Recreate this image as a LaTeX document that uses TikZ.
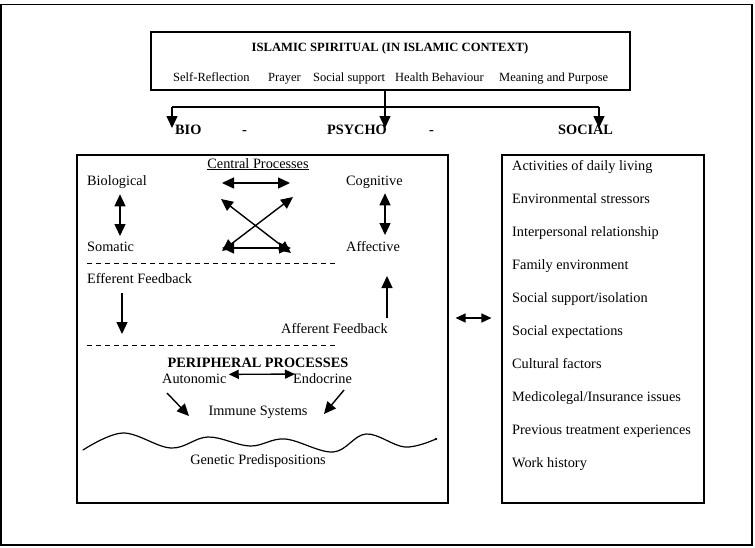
\documentclass[tikz,border=0pt]{standalone}
\usepackage{fontspec}
\setmainfont{Liberation Serif}
\usetikzlibrary{arrows.meta}
\begin{document}
\begin{tikzpicture}[x=1pt,y=-1pt,
  txt/.style={anchor=base west, inner sep=0pt, font=\fontsize{14.3}{17}\selectfont},
  ctxt/.style={anchor=base, inner sep=0pt, font=\fontsize{14.3}{17}\selectfont},
  btxt/.style={anchor=base west, inner sep=0pt, font=\fontsize{14.3}{17}\selectfont\bfseries},
  stxt/.style={anchor=base west, inner sep=0pt, font=\fontsize{12.5}{15}\selectfont},
  frame/.style={draw, line width=1.1pt, inner sep=0pt},
  arr/.style={line width=1.4pt, -{Triangle[length=12pt,width=11pt]}},
  darr/.style={line width=1.4pt, {Triangle[length=12pt,width=11pt]}-{Triangle[length=12pt,width=11pt]}},
  sdarr/.style={line width=1.4pt, {Triangle[length=10pt,width=9pt]}-{Triangle[length=10pt,width=9pt]}},
  dline/.style={line width=0.9pt, dash pattern=on 5pt off 4pt},
]
\useasboundingbox (0,0) rectangle (755,547);
% outer frame
\draw[line width=1.2pt] (1,4.5) rectangle (752,545);

% top box
\node[frame, minimum width=479pt, minimum height=58pt] (top) at (390.5,61) {};
\node[anchor=base, inner sep=0pt, font=\fontsize{12.6}{15}\selectfont\bfseries] (title) at (390,51) {ISLAMIC SPIRITUAL (IN ISLAMIC CONTEXT)};
\node[stxt] (s1) at (173,81) {Self-Reflection};
\node[stxt] (s2) at (268,81) {Prayer};
\node[stxt] (s3) at (313,81) {Social support};
\node[stxt] (s4) at (395,81) {Health Behaviour};
\node[stxt] (s5) at (499,81) {Meaning and Purpose};

% bio psycho social
\node[btxt] (bio) at (175,134) {BIO};
\node[btxt] (d1) at (242,134) {-};
\node[btxt] (psy) at (327,134) {PSYCHO};
\node[btxt] (d2) at (429,134) {-};
\node[btxt] (soc) at (558,134) {SOCIAL};

\coordinate (trunk) at (385,90);
\coordinate (jl) at (172,107);
\coordinate (jr) at (599,107);
\coordinate (el) at (172,128);
\coordinate (em) at (385,128);
\coordinate (er) at (599,128);
\draw[arr] (top.south -| trunk) -- (em);
\draw[line width=1.2pt] (jl) -- (jr);
\draw[arr] (jl) -- (el);
\draw[arr] (jr) -- (er);

% left box
\node[frame, minimum width=371pt, minimum height=348pt] (lbox) at (262.5,329) {};
% right box
\node[frame, minimum width=202pt, minimum height=348pt] (rbox) at (603,329) {};

% central processes
\node[ctxt] (cp) at (258,168) {\underline{Central Processes}};
\node[txt] (biol) at (87,185) {Biological};
\node[txt] (cogn) at (346,185) {Cognitive};
\node[txt] (soma) at (87,251) {Somatic};
\node[txt] (affe) at (346,251) {Affective};
\coordinate (bs1) at (120,195);
\coordinate (bs2) at (120,236);
\coordinate (ca1) at (385,194);
\coordinate (ca2) at (385,235);
\draw[darr] (biol.south -| bs1) ++(0,6) -- (bs2);
\draw[darr] (cogn.south -| ca1) ++(0,5) -- (ca2);

\coordinate (ctl) at (222,183);
\coordinate (ctr) at (290,183);
\coordinate (cbl) at (222,248);
\coordinate (cbr) at (291,248);
\coordinate (xtl) at (221,199);
\coordinate (xbr) at (291,253);
\coordinate (xtr) at (293,197);
\coordinate (xbl) at (222,251);
\draw[darr] (ctl) -- (ctr);
\draw[darr] (cbl) -- (cbr);
\draw[darr] (xtl) -- (xbr);
\draw[darr] (xtr) -- (xbl);

\coordinate (dl1) at (87,263);
\coordinate (dr1) at (336,263);
\draw[dline] (dl1) -- (dr1);

\node[txt] (eff) at (87,283) {Efferent Feedback};
\coordinate (effs) at (122,293);
\coordinate (effend) at (122,334);
\draw[arr] (effs) -- (effend);
\node[txt] (aff) at (281,333) {Afferent Feedback};
\coordinate (affstart) at (387,318);
\coordinate (affend) at (387,276);
\draw[arr] (affstart) -- (affend);

\coordinate (dl2) at (87,345);
\coordinate (dr2) at (336,345);
\draw[dline] (dl2) -- (dr2);

% peripheral
\node[anchor=base, inner sep=0pt, font=\fontsize{14.3}{17}\selectfont\bfseries] (pp) at (258,367) {PERIPHERAL PROCESSES};
\node[txt] (auto) at (162,383) {Autonomic};
\node[txt] (endo) at (293,383) {Endocrine};
\draw[sdarr] ([xshift=2pt,yshift=4pt]auto.east) -- ([xshift=2pt,yshift=4pt]endo.west);
\node[ctxt] (imm) at (258,415) {Immune Systems};
\coordinate (ia0) at (167,393);
\coordinate (ia) at (189,416);
\coordinate (ib0) at (344,390);
\coordinate (ib) at (324,414);
\draw[arr] (ia0) -- (ia);
\draw[arr] (ib0) -- (ib);

% wave
\draw[line width=1.2pt, line cap=round] plot[smooth, tension=0.6] coordinates {(83,450) (123,433) (171,448) (208,437) (250,446) (285,439) (333,452) (366,434) (405,447) (436,439)};
\fill (436,439) circle (1.3pt);

\node[ctxt] (gen) at (258,464) {Genetic Predispositions};

% social list
\node[txt] (r1) at (512,170) {Activities of daily living};
\node[txt] (r2) at (512,203) {Environmental stressors};
\node[txt] (r3) at (512,236) {Interpersonal relationship};
\node[txt] (r4) at (512,269) {Family environment};
\node[txt] (r5) at (512,302) {Social support/isolation};
\node[txt] (r6) at (512,335) {Social expectations};
\node[txt] (r7) at (512,368) {Cultural factors};
\node[txt] (r8) at (512,401) {Medicolegal/Insurance issues};
\node[txt] (r9) at (512,434) {Previous treatment experiences};
\node[txt] (r10) at (512,467) {Work history};

% between boxes
\draw[sdarr] ([xshift=7pt]lbox.east |- 0,318) -- ([xshift=-10pt]rbox.west |- 0,318);
\end{tikzpicture}
\end{document}
